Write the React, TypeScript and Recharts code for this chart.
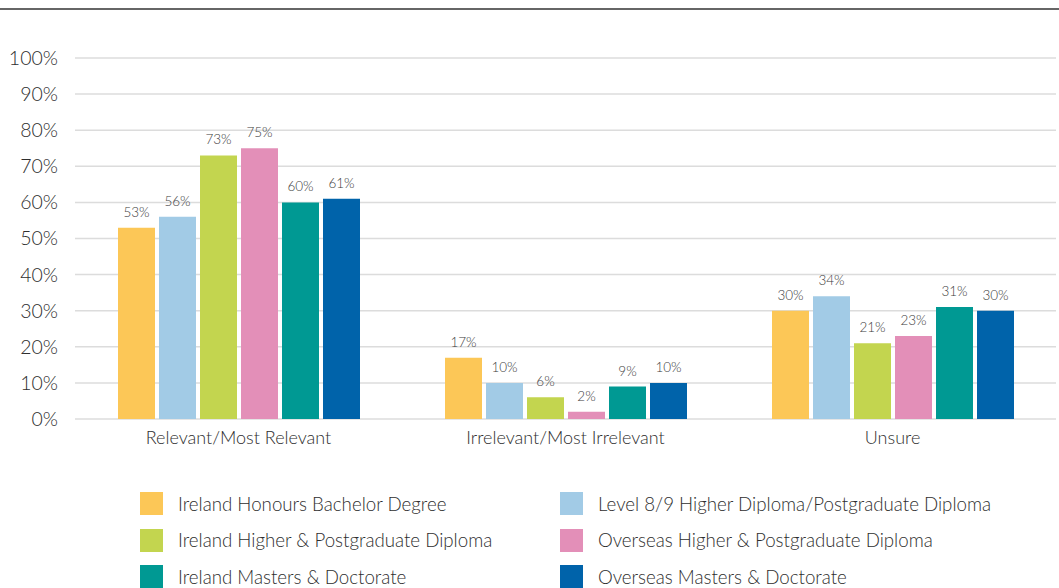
import React from "react";
import { BarChart, Bar, XAxis, YAxis, CartesianGrid, LabelList } from "recharts";

// Survey answers grouped by response, one bar per qualification type
const categories = ["Relevant/Most Relevant", "Irrelevant/Most Irrelevant", "Unsure"];

const seriesNames = [
  "Ireland Honours Bachelor Degree",
  "Level 8/9 Higher Diploma/Postgraduate Diploma",
  "Ireland Higher & Postgraduate Diploma",
  "Overseas Higher & Postgraduate Diploma",
  "Ireland Masters & Doctorate",
  "Overseas Masters & Doctorate",
];

const seriesColors = ["#FCC757", "#A2CBE6", "#C3D54F", "#E38FB8", "#009993", "#0063AA"];

const bachelorIE = [53, 17, 30];
const diplomaL89 = [56, 10, 34];
const diplomaIE = [73, 6, 21];
const diplomaOverseas = [75, 2, 23];
const mastersIE = [60, 9, 31];
const mastersOverseas = [61, 10, 30];

const yTicks = [0, 10, 20, 30, 40, 50, 60, 70, 80, 90, 100];

const seriesValues = [bachelorIE, diplomaL89, diplomaIE, diplomaOverseas, mastersIE, mastersOverseas];

const data = categories.map((name, i) => {
  const row: Record<string, string | number> = { name };
  seriesValues.forEach((vals, s) => {
    row[`s${s}`] = vals[i];
  });
  return row;
});

const FONT = "Lato, 'Open Sans', sans-serif";
const TEXT = "#2e2e2e";

// legend is laid out in two columns, filled row by row
const legendOrder = [0, 1, 2, 3, 4, 5];

export default function App() {
  return (
    <div style={{ position: "relative", width: 1059, height: 588, background: "#fff", overflow: "hidden", fontFamily: FONT }}>
      <style>{"body{margin:0}"}</style>
      <div style={{ position: "absolute", left: 0, top: 8, width: 1059, height: 2, background: "#666" }} />
      <BarChart
        width={1059}
        height={588}
        data={data}
        margin={{ top: 58, right: 3, bottom: 139, left: 0 }}
        barGap={4}
        barSize={37}
      >
        <CartesianGrid vertical={false} stroke="#dcdcdc" strokeWidth={1.5} />
        <XAxis
          dataKey="name"
          axisLine={false}
          tickLine={false}
          tickSize={0}
          tickMargin={12}
          height={30}
          tick={{ fill: TEXT, fontSize: 18, fontFamily: FONT, fontWeight: 300 }}
        />
        <YAxis
          domain={[0, 100]}
          ticks={yTicks}
          interval={0}
          width={75}
          axisLine={false}
          tickLine={false}
          tickSize={6}
          tickMargin={11}
          tickFormatter={(v: number) => `${v}%`}
          tick={{ fill: TEXT, fontSize: 19.5, fontFamily: FONT, fontWeight: 300 }}
        />
        {seriesNames.map((n, s) => (
          <Bar key={n} dataKey={`s${s}`} name={n} fill={seriesColors[s]} isAnimationActive={false}>
            <LabelList
              dataKey={`s${s}`}
              position="top"
              offset={11}
              formatter={(v: number) => `${v}%`}
              style={{ fill: "#3c3c3c", fontSize: 13.5, fontFamily: FONT, fontWeight: 300 }}
            />
          </Bar>
        ))}
      </BarChart>
      {legendOrder.map((s) => {
        const col = s % 2;
        const row = Math.floor(s / 2);
        return (
          <div
            key={s}
            style={{
              position: "absolute",
              left: col === 0 ? 140 : 560,
              top: 492 + row * 36.5,
              display: "flex",
              alignItems: "center",
              height: 23,
              whiteSpace: "nowrap",
            }}
          >
            <div style={{ width: 23, height: 23, background: seriesColors[s] }} />
            <span style={{ marginLeft: 15, fontSize: 18.7, color: TEXT, fontFamily: FONT, fontWeight: 300 }}>
              {seriesNames[s]}
            </span>
          </div>
        );
      })}
    </div>
  );
}
